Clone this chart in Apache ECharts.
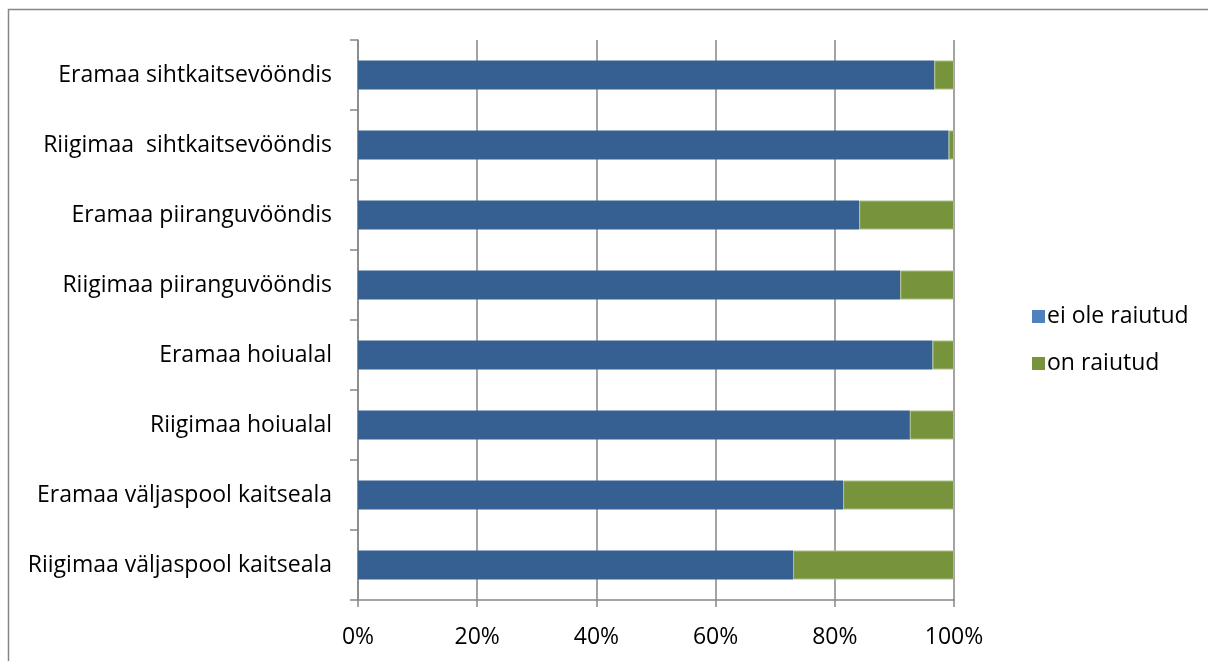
<!DOCTYPE html>
<html>
<head>
<meta charset="utf-8">
<script src="https://cdn.jsdelivr.net/npm/echarts@6/dist/echarts.min.js"></script>
<style>
  html, body { margin: 0; padding: 0; background: #fff; }
  #chart { width: 1208px; height: 661px; }
</style>
</head>
<body>
<div id="chart"></div>
<script>
// Land categories, top to bottom
const categories = [
  'Eramaa sihtkaitsevööndis',
  'Riigimaa  sihtkaitsevööndis',
  'Eramaa piiranguvööndis',
  'Riigimaa piiranguvööndis',
  'Eramaa hoiualal',
  'Riigimaa hoiualal',
  'Eramaa väljaspool kaitseala',
  'Riigimaa väljaspool kaitseala'
];
// Share of area (%)
const eiOleRaiutud = [96.7, 99.1, 84.1, 91.0, 96.4, 92.6, 81.4, 73.0];
const onRaiutud    = [3.3, 0.9, 15.9, 9.0, 3.6, 7.4, 18.6, 27.0];
const xTicks = [0, 20, 40, 60, 80, 100];

const FONT = '"Open Sans"';
const FS = 23;
const GRID = '#868686';

const chart = echarts.init(document.getElementById('chart'), null, { renderer: 'canvas' });
chart.setOption({
  animation: false,
  backgroundColor: '#ffffff',
  textStyle: { fontFamily: FONT },
  graphic: [{
    type: 'rect',
    shape: { x: 8.5, y: 9.5, width: 1230, height: 700 },
    style: { fill: 'none', stroke: GRID, lineWidth: 1.5 },
    z: -10
  }],
  grid: { left: 358, top: 40, right: 254, bottom: 61, containLabel: false },
  legend: {
    orient: 'vertical',
    left: 1027,
    top: 300,
    itemWidth: 13,
    itemHeight: 13,
    itemGap: 24,
    icon: 'rect',
    textStyle: { fontFamily: FONT, fontSize: FS, color: '#000', padding: [0, 0, 0, -3] },
    data: [
      { name: 'ei ole raiutud', itemStyle: { color: '#4F81BD', borderWidth: 0 } },
      { name: 'on raiutud', itemStyle: { color: '#77933C', borderWidth: 0 } }
    ]
  },
  xAxis: {
    type: 'value',
    min: 0,
    max: 100,
    interval: 20,
    axisLine: { show: true, lineStyle: { color: GRID, width: 1.5 } },
    axisTick: { show: true, length: 7, lineStyle: { color: GRID, width: 1.5 } },
    splitLine: { show: true, lineStyle: { color: GRID, width: 1.5 } },
    axisLabel: {
      fontFamily: FONT, fontSize: FS, color: '#000', margin: 26,
      formatter: v => (xTicks.includes(v) ? v + '%' : '')
    }
  },
  yAxis: {
    type: 'category',
    data: categories,
    inverse: true,
    axisLine: { show: true, lineStyle: { color: GRID, width: 1.5 } },
    axisTick: { show: true, length: 8, lineStyle: { color: GRID, width: 1.5 } },
    axisLabel: { fontFamily: FONT, fontSize: FS, color: '#000', margin: 26 }
  },
  series: [
    {
      name: 'ei ole raiutud',
      type: 'bar',
      stack: 'total',
      barWidth: 29,
      itemStyle: { color: '#366092' },
      data: eiOleRaiutud
    },
    {
      name: 'on raiutud',
      type: 'bar',
      stack: 'total',
      barWidth: 29,
      itemStyle: { color: '#77933C', borderColor: '#a9be85', borderWidth: 1 },
      data: onRaiutud
    }
  ]
});
</script>
</body>
</html>
